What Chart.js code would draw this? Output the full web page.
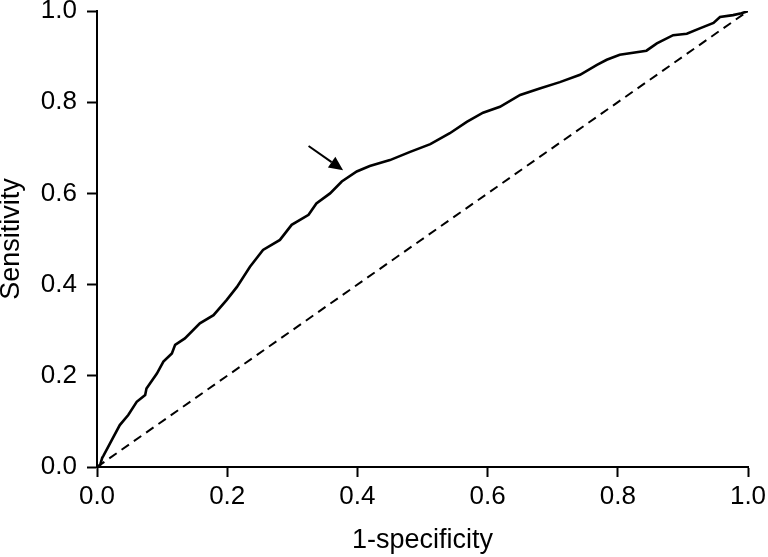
<!DOCTYPE html>
<html>
<head>
<meta charset="utf-8">
<script src="https://cdn.jsdelivr.net/npm/chart.js@4/dist/chart.umd.min.js"></script>
<style>
  html, body { margin: 0; padding: 0; background: #fff; }
  #wrap { width: 768px; height: 557px; }
</style>
</head>
<body>
<div id="wrap"><canvas id="c" width="768" height="557"></canvas></div>
<script>
const fpr = [0, 0.005, 0.008, 0.01, 0.02, 0.035, 0.048, 0.061, 0.074, 0.076, 0.092, 0.102, 0.115, 0.12, 0.135, 0.158, 0.179, 0.199, 0.215, 0.235, 0.255, 0.281, 0.299, 0.325, 0.337, 0.358, 0.376, 0.399, 0.419, 0.45, 0.481, 0.512, 0.542, 0.568, 0.593, 0.619, 0.65, 0.68, 0.711, 0.742, 0.768, 0.783, 0.803, 0.844, 0.86, 0.885, 0.906, 0.926, 0.947, 0.957, 0.977, 0.99, 1.0];
const tpr = [0, 0.005, 0.02, 0.025, 0.052, 0.092, 0.114, 0.143, 0.158, 0.172, 0.205, 0.231, 0.249, 0.268, 0.282, 0.315, 0.333, 0.366, 0.395, 0.439, 0.476, 0.498, 0.531, 0.553, 0.578, 0.6, 0.626, 0.648, 0.66, 0.673, 0.691, 0.708, 0.732, 0.757, 0.777, 0.79, 0.816, 0.83, 0.844, 0.86, 0.882, 0.893, 0.904, 0.913, 0.929, 0.947, 0.95, 0.962, 0.974, 0.987, 0.991, 0.995, 1.0];
const refX = [0, 1];
const refY = [0, 1];
const arrowFrom = [0.325, 0.704];
const arrowTo = [0.378, 0.651];
const xTitle = "1-specificity";
const yTitle = "Sensitivity";

const FONT = "'Liberation Sans', Arial, sans-serif";

const arrowPlugin = {
  id: 'arrow',
  afterDatasetsDraw(chart) {
    const {ctx, scales: {x, y}} = chart;
    const x0 = x.getPixelForValue(arrowFrom[0]), y0 = y.getPixelForValue(arrowFrom[1]);
    const x1 = x.getPixelForValue(arrowTo[0]), y1 = y.getPixelForValue(arrowTo[1]);
    const ang = Math.atan2(y1 - y0, x1 - x0);
    const hl = 14, hw = 6.5;
    const bx = x1 - hl * Math.cos(ang), by = y1 - hl * Math.sin(ang);
    ctx.save();
    ctx.strokeStyle = '#000';
    ctx.fillStyle = '#000';
    ctx.lineWidth = 2;
    ctx.beginPath();
    ctx.moveTo(x0, y0);
    ctx.lineTo(bx, by);
    ctx.stroke();
    ctx.beginPath();
    ctx.moveTo(x1, y1);
    ctx.lineTo(bx + hw * Math.sin(ang), by - hw * Math.cos(ang));
    ctx.lineTo(bx - hw * Math.sin(ang), by + hw * Math.cos(ang));
    ctx.closePath();
    ctx.fill();
    ctx.restore();
  }
};

new Chart(document.getElementById('c'), {
  type: 'scatter',
  data: {
    datasets: [
      {
        data: fpr.map((v, i) => ({x: v, y: tpr[i]})),
        showLine: true,
        borderColor: '#000',
        borderWidth: 2.6,
        pointRadius: 0,
        tension: 0,
        fill: false
      },
      {
        data: refX.map((v, i) => ({x: v, y: refY[i]})),
        showLine: true,
        borderColor: '#000',
        borderWidth: 2,
        borderDash: [9, 6],
        pointRadius: 0,
        fill: false
      }
    ]
  },
  options: {
    responsive: false,
    animation: false,
    devicePixelRatio: 1,
    layout: { padding: { left: 0, right: 20, top: 11, bottom: 0 } },
    plugins: { legend: { display: false }, tooltip: { enabled: false } },
    scales: {
      x: {
        type: 'linear',
        min: 0, max: 1,
        afterFit(s) { s.height = 90; s.paddingLeft = 0; s.paddingRight = 0; },
        ticks: {
          stepSize: 0.2,
          color: '#000',
          font: { family: FONT, size: 26 },
          padding: 4,
          maxRotation: 0,
          callback: v => v.toFixed(1)
        },
        grid: { drawOnChartArea: false, drawTicks: true, tickLength: 10, tickColor: '#000', tickWidth: 2 },
        border: { display: true, color: '#000', width: 2 },
        title: { display: true, text: xTitle, color: '#000', font: { family: FONT, size: 27 }, padding: { top: 0, bottom: 0 } }
      },
      y: {
        type: 'linear',
        min: 0, max: 1,
        afterFit(s) { s.width = 97; s.paddingTop = 0; s.paddingBottom = 0; },
        ticks: {
          stepSize: 0.2,
          color: '#000',
          font: { family: FONT, size: 26 },
          padding: 10,
          callback: v => v.toFixed(1)
        },
        grid: { drawOnChartArea: false, drawTicks: true, tickLength: 10, tickColor: '#000', tickWidth: 2 },
        border: { display: true, color: '#000', width: 2 },
        title: { display: true, text: yTitle, color: '#000', font: { family: FONT, size: 27 }, padding: { top: -5, bottom: 0 } }
      }
    }
  },
  plugins: [arrowPlugin]
});
</script>
</body>
</html>
